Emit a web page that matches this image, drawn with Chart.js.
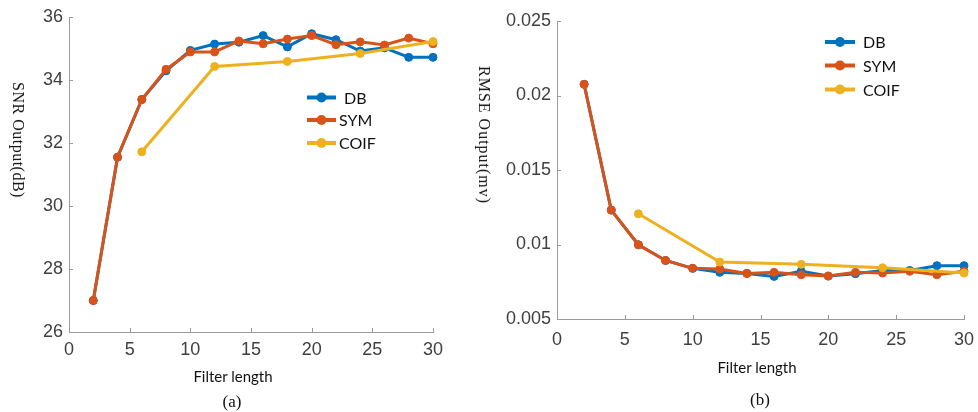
<!DOCTYPE html>
<html>
<head>
<meta charset="utf-8">
<script src="https://cdn.jsdelivr.net/npm/chart.js@4.4.1/dist/chart.umd.min.js"></script>
<style>
  html,body{margin:0;padding:0;background:#fff;}
  #wrap{position:relative;width:978px;height:412px;overflow:hidden;}
  canvas{position:absolute;top:0;}
  .t{position:absolute;white-space:nowrap;color:#111;}
  .yt{font-family:"Liberation Serif","DejaVu Serif",serif;font-size:16px;transform:translate(-50%,-50%) rotate(90deg);}
  .xt{font-family:Lato,"Open Sans",sans-serif;font-size:15px;transform:translate(-50%,-50%);}
  .cap{font-family:"Liberation Serif","DejaVu Serif",serif;font-size:17px;transform:translate(-50%,-50%);}
</style>
</head>
<body>
<div id="wrap">
  <canvas id="ca" width="489" height="412" style="left:0"></canvas>
  <canvas id="cb" width="489" height="412" style="left:489px"></canvas>
  <div class="t yt" style="left:18px;top:140px;letter-spacing:0.5px">SNR Output(dB)</div>
  <div class="t yt" style="left:484px;top:135px;letter-spacing:1px">RMSE Output(mv)</div>
  <div class="t xt" style="left:233px;top:376px">Filter length</div>
  <div class="t xt" style="left:757px;top:367px">Filter length</div>
  <div class="t cap" style="left:232px;top:402px">(a)</div>
  <div class="t cap" style="left:760px;top:400px">(b)</div>
</div>
<script>
// ---- data ----
const filterLength = [2,4,6,8,10,12,14,16,18,20,22,24,26,28,30];
const coifLength = [6,12,18,24,30];
const seriesNames = ["DB","SYM","COIF"];

const snrDB   = [27.0,31.55,33.38,34.29,34.94,35.14,35.20,35.41,35.05,35.47,35.28,34.92,35.02,34.72,34.72];
const snrSYM  = [27.0,31.55,33.38,34.34,34.89,34.89,35.24,35.15,35.30,35.41,35.12,35.21,35.11,35.33,35.15];
const snrCOIF = [31.72,34.43,34.59,34.84,35.22];

const rmseDB   = [0.02075,0.01231,0.00998,0.00893,0.00840,0.00813,0.00806,0.00786,0.00820,0.00788,0.00804,0.00826,0.00826,0.00858,0.00858];
const rmseSYM  = [0.02075,0.01231,0.00998,0.00893,0.00840,0.00835,0.00806,0.00813,0.00797,0.00788,0.00813,0.00808,0.00820,0.00797,0.00820];
const rmseCOIF = [0.01206,0.00882,0.00867,0.00844,0.00808];

const xTicks = [0,5,10,15,20,25,30];
const xTickLabels = ["0","5","10","15","20","25","30"];
const snrTicks = [26,28,30,32,34,36];
const snrTickLabels = ["26","28","30","32","34","36"];
const rmseTicks = [0.005,0.01,0.015,0.02,0.025];
const rmseTickLabels = ["0.005","0.01","0.015","0.02","0.025"];

const colors = ["#0072BD","#D95319","#EDB120"];
const axisColor = "#9a9a9a";
const tickColor = "#404040";

function pts(xs, ys){ return xs.map((x,i)=>({x:x,y:ys[i]})); }

function makeDatasets(db, sym, coif){
  const sets = [pts(filterLength,db), pts(filterLength,sym), pts(coifLength,coif)];
  return sets.map((d,i)=>({
    label: seriesNames[i], data: d,
    borderColor: colors[i], backgroundColor: colors[i],
    borderWidth: 3, pointRadius: 4, pointBorderWidth: 1,
    pointBackgroundColor: colors[i], pointBorderColor: colors[i],
    tension: 0, clip: false, order: 3 - i
  }));
}

const innerTicks = {
  id:'innerTicks',
  afterDraw(chart){
    const ctx = chart.ctx, xs = chart.scales.x, ys = chart.scales.y, a = chart.chartArea;
    ctx.save(); ctx.strokeStyle = axisColor; ctx.lineWidth = 1;
    xs.ticks.forEach(t=>{ const px = Math.round(xs.getPixelForValue(t.value))+0.5;
      ctx.beginPath(); ctx.moveTo(px,a.bottom); ctx.lineTo(px,a.bottom-4); ctx.stroke(); });
    ys.ticks.forEach(t=>{ const py = Math.round(ys.getPixelForValue(t.value))+0.5;
      ctx.beginPath(); ctx.moveTo(a.left,py); ctx.lineTo(a.left+4,py); ctx.stroke(); });
    ctx.restore();
  }
};

function legendPlugin(pos){
  return {
    id:'lg',
    afterDraw(chart){
      const ctx = chart.ctx;
      ctx.save();
      chart.data.datasets.forEach((ds,i)=>{
        const y = pos.ys[i];
        ctx.strokeStyle = ds.borderColor; ctx.lineWidth = 4;
        ctx.beginPath(); ctx.moveTo(pos.x0,y); ctx.lineTo(pos.x1,y); ctx.stroke();
        ctx.fillStyle = ds.borderColor;
        ctx.beginPath(); ctx.arc((pos.x0+pos.x1)/2,y,5,0,Math.PI*2); ctx.fill();
        ctx.fillStyle = "#111"; ctx.font = "16px Lato, 'Open Sans', sans-serif";
        ctx.textBaseline = "middle"; ctx.textAlign = "left";
        ctx.fillText(ds.label, pos.tx[i], y+1);
      });
      ctx.restore();
    }
  };
}

function makeChart(id, datasets, yMin, yMax, yTicks, yLabels, box, legendPos, xPad){
  return new Chart(document.getElementById(id), {
    type:'line',
    data:{datasets: datasets},
    options:{
      responsive:false, animation:false, devicePixelRatio:1,
      layout:{padding:{left:0, right:box.right, top:box.top, bottom:0}},
      plugins:{legend:{display:false}, tooltip:{enabled:false}},
      scales:{
        x:{type:'linear', min:0, max:30,
           afterBuildTicks(s){ s.ticks = xTicks.map(v=>({value:v})); },
           afterFit(s){ s.height = box.xh; s.paddingRight = 0; s.paddingLeft = 0; },
           grid:{display:false, drawTicks:false},
           border:{display:true, color:axisColor, width:1},
           ticks:{padding:xPad, color:tickColor, maxRotation:0,
                  font:{family:"'Liberation Sans', Arial, sans-serif", size:18},
                  callback(v){ const k = xTicks.indexOf(v); return k>=0 ? xTickLabels[k] : ''; }}},
        y:{type:'linear', min:yMin, max:yMax,
           afterBuildTicks(s){ s.ticks = yTicks.map(v=>({value:v})); },
           afterFit(s){ s.width = box.yw; s.paddingTop = 0; s.paddingBottom = 0; },
           grid:{display:false, drawTicks:false},
           border:{display:true, color:axisColor, width:1},
           ticks:{padding:6, color:tickColor,
                  font:{family:"'Liberation Sans', Arial, sans-serif", size:18},
                  callback(v){ const k = yTicks.findIndex(t=>Math.abs(t-v)<1e-9); return k>=0 ? yLabels[k] : ''; }}}
      }
    },
    plugins:[innerTicks, legendPlugin(legendPos)]
  });
}

const chartA = makeChart('ca', makeDatasets(snrDB,snrSYM,snrCOIF), 26, 36, snrTicks, snrTickLabels,
  {right:56, top:17, xh:80, yw:69},
  {x0:307, x1:336, ys:[97.5,120,143], tx:[344,339,339]}, 7);

const chartB = makeChart('cb', makeDatasets(rmseDB,rmseSYM,rmseCOIF), 0.005, 0.025, rmseTicks, rmseTickLabels,
  {right:14, top:21, xh:93, yw:68},
  {x0:336, x1:366, ys:[42,65.5,89.5], tx:[374,374,374]}, 10);
</script>
</body>
</html>
